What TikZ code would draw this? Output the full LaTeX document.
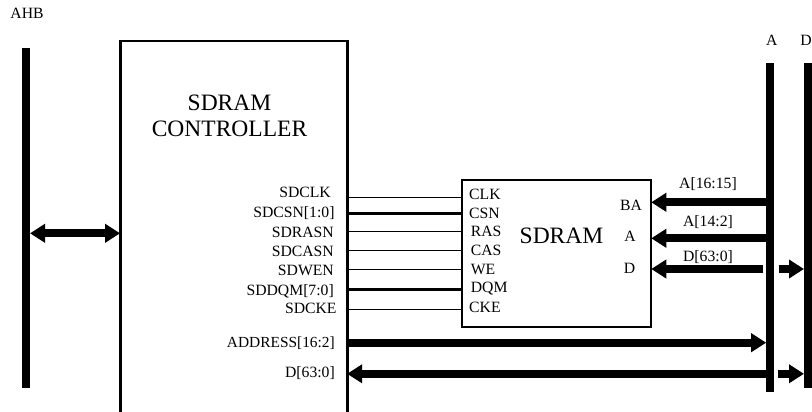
\documentclass[tikz,border=0pt]{standalone}
\usepackage{fontspec}
\setmainfont{Liberation Serif}
\usetikzlibrary{arrows.meta}

\tikzset{
sig/.style={font=\fontsize{15.7}{16}\selectfont, inner sep=0, text height=10.4pt, text depth=0pt},
bigtext/.style={font=\fontsize{23.5}{26}\selectfont, inner sep=0, align=center},
busbar/.style={fill=black, inner sep=0, outer sep=0, minimum width=8},
bigarrow/.style={line width=8, -{Triangle[length=15pt,width=18pt]}},
bothways/.style={line width=8, {Triangle[length=15pt,width=18pt]}-{Triangle[length=15pt,width=18pt]}}
}

\begin{document}
\begin{tikzpicture}[x=1pt,y=-1pt]

\useasboundingbox (0,0) rectangle (812,412);

% Buses
\node[busbar, minimum height=340.6] (ahb) at (26,218) {};
\node[busbar, minimum height=329.4] (busA) at (770.2,227.4) {};
\node[busbar, minimum height=325.6] (busD) at (808,225.5) {};

% Bus names
\node[sig] (ahbname) at (27,13) {AHB};
\node[sig] (aname) at (771.7,40.7) {A};
\node[sig, anchor=east] (dname) at (811.8,40.7) {D};

% Controller, open at the bottom
\node[inner sep=0, outer sep=0, minimum width=227, minimum height=371] (ctrl) at (233.6,226.5) {};
\draw[line width=2.8] (ctrl.south west) -- (ctrl.north west) -- (ctrl.north east) -- (ctrl.south east);
\node[bigtext] (ctrlname) at (229.5,116) {SDRAM\\CONTROLLER};

% Memory
\node[draw, line width=2, inner sep=0, outer sep=0, minimum width=189.5, minimum height=147] (sdram) at (556.5,253.5) {};
\node[bigtext] (sdramname) at (561.5,236) {SDRAM};

% Control signals
\foreach \name/\sname/\pname/\sx/\sy/\px/\py/\ly/\lw in {
clk/SDCLK/CLK/331/192.7/469/194.3/197.5/1,
csn/SDCSN[1:0]/CSN/334.7/212.7/469/213.3/213.7/2.5,
ras/SDRASN/RAS/334/232/470.7/231/231.5/1,
cas/SDCASN/CAS/334/251.7/470.7/250/250.5/1,
wen/SDWEN/WE/334/270.7/470.7/269/269.5/1,
dqm/SDDQM[7:0]/DQM/334/290/470.7/287/289.7/2.5,
cke/SDCKE/CKE/336.7/308/469/307/309.5/1
}{
\node[sig, anchor=east] (\name s) at (\sx,\sy) {\sname};
\node[sig, anchor=west] (\name p) at (\px,\py) {\pname};
\coordinate (\name l) at (400,\ly);
\draw[line width=\lw] (ctrl.east |- \name l) -- (sdram.west |- \name l);
}

% Data pins
\node[sig] (bapin) at (631,205) {BA};
\node[sig] (apin) at (630,236.7) {A};
\node[sig] (dpin) at (629.5,268) {D};

% Row labels
\node[sig] (balabel) at (708,183) {A[16:15]};
\node[sig] (alabel) at (708,221) {A[14:2]};
\node[sig] (dlabel) at (708,256.7) {D[63:0]};
\node[sig, font=\fontsize{15.4}{16}\selectfont, anchor=east] (addrs) at (335,342) {ADDRESS[16:2]};
\node[sig, anchor=east] (datas) at (335,372) {D[63:0]};

% Rows of the thick arrows
\coordinate (ahbrow) at (70,233.3);
\coordinate (barow) at (700,202.3);
\coordinate (arow) at (700,238.3);
\coordinate (drow) at (700,269);
\coordinate (addrrow) at (500,342.7);
\coordinate (datarow) at (500,373.8);
\coordinate (dgap) at (763.3,269);
\coordinate (dstub) at (778.7,269);
\coordinate (datastub) at (777.7,373.8);

% Thick arrows
\draw[bothways] (ahb.east |- ahbrow) -- (ctrl.west |- ahbrow);
\draw[bigarrow] (busA.west |- barow) -- (sdram.east |- barow);
\draw[bigarrow] (busA.west |- arow) -- (sdram.east |- arow);
\draw[bigarrow] (dgap) -- (sdram.east |- drow);
\draw[bigarrow] (dstub) -- (busD.west |- dstub);
\draw[bigarrow] (ctrl.east |- addrrow) -- (busA.west |- addrrow);
\draw[bigarrow] (busA.west |- datarow) -- (ctrl.east |- datarow);
\draw[bigarrow] (datastub) -- (busD.west |- datastub);

\end{tikzpicture}
\end{document}
